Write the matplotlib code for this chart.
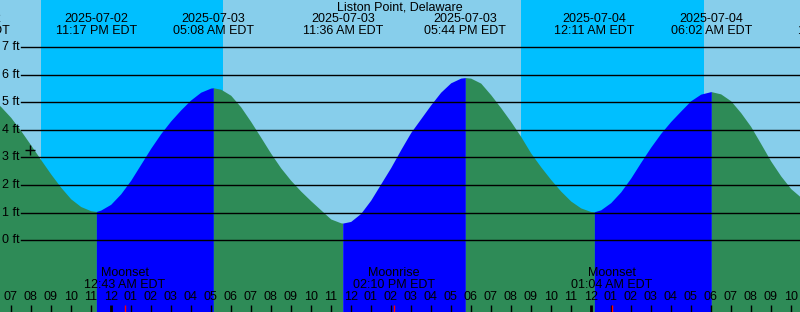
import numpy as np
import pandas as pd
import matplotlib
matplotlib.use('Agg')
import matplotlib.pyplot as plt
import matplotlib.dates as mdates
import matplotlib.transforms as mtransforms

plt.rcParams['font.family'] = ['Liberation Sans', 'DejaVu Sans']

station = 'Liston Point, Delaware'

# high / low tide predictions (ft)
hilo_times = ['2025-07-02 16:55', '2025-07-02 23:17', '2025-07-03 05:08', '2025-07-03 11:36',
              '2025-07-03 17:44', '2025-07-04 00:11', '2025-07-04 06:02', '2025-07-04 12:24']
hilo_heights = [5.50, 1.04, 5.52, 0.62, 5.89, 1.03, 5.38, 0.60]

# half-hourly tide heights (ft), starting 2025-07-02 18:00
tide_start = '2025-07-02 18:00'
tide_heights = [5.17, 4.84, 4.45, 3.97, 3.45, 2.92, 2.40, 1.92, 1.50, 1.22, 1.07, 1.09,
                1.30, 1.68, 2.17, 2.75, 3.33, 3.86, 4.32, 4.72, 5.08, 5.36, 5.51, 5.47,
                5.25, 4.83, 4.30, 3.73, 3.15, 2.62, 2.17, 1.78, 1.43, 1.10, 0.77, 0.63,
                0.68, 0.97, 1.45, 2.04, 2.63, 3.28, 3.90, 4.40, 4.90, 5.36, 5.70, 5.87,
                5.87, 5.69, 5.27, 4.80, 4.30, 3.76, 3.16, 2.66, 2.20, 1.78, 1.42, 1.17,
                1.04, 1.10, 1.36, 1.75, 2.25, 2.82, 3.37, 3.87, 4.30, 4.68, 5.05, 5.29,
                5.38, 5.30, 5.05, 4.62, 4.12, 3.50, 2.87, 2.33, 1.87, 1.56, 1.28]

# night (sunset -> sunrise)
sunsets = ['2025-07-02 20:31', '2025-07-03 20:30']
sunrises = ['2025-07-03 05:38', '2025-07-04 05:39']

moon_times = ['2025-07-03 00:43', '2025-07-03 14:10', '2025-07-04 01:04']
moon_events = ['Moonset', 'Moonrise', 'Moonset']

now_time = '2025-07-02 19:58'
now_height = 3.26

ft_levels = [0, 1, 2, 3, 4, 5, 6, 7]

x_start = '2025-07-02 18:27:54'
x_end = '2025-07-04 10:27:54'
y_min, y_max = -2.6, 8.7

day_color = '#87CEEB'
night_color = '#00BFFF'
fall_color = '#2E8B57'
rise_color = '#0000FF'


def dnum(t):
    return mdates.date2num(pd.to_datetime(t))


hl_t = pd.to_datetime(hilo_times)
hl_x = dnum(hilo_times)
td_t = pd.date_range(tide_start, periods=len(tide_heights), freq='30min')
td_x = dnum(td_t)

all_x = np.concatenate([hl_x, td_x])
all_h = np.concatenate([hilo_heights, tide_heights])
order = np.argsort(all_x)
all_x = all_x[order]
all_h = all_h[order]

fig = plt.figure(figsize=(8, 3.12), dpi=100)
fig.patch.set_facecolor(day_color)
ax = fig.add_axes([0, 0, 1, 1])
ax.axis('off')
ax.set_xlim(dnum(x_start), dnum(x_end))
ax.set_ylim(y_min, y_max)
trans = mtransforms.blended_transform_factory(ax.transData, ax.transAxes)
trans_y = mtransforms.blended_transform_factory(ax.transAxes, ax.transData)

for s, r in zip(sunsets, sunrises):
    ax.axvspan(dnum(s), dnum(r), color=night_color, lw=0, zorder=0)

# tide fill, green when falling, blue when rising
for i in range(len(hl_x) - 1):
    m = (all_x >= hl_x[i]) & (all_x <= hl_x[i + 1])
    c = rise_color if hilo_heights[i + 1] > hilo_heights[i] else fall_color
    ax.fill_between(all_x[m], all_h[m], y_min - 1, color=c, lw=0, zorder=1)

for lv in ft_levels:
    ax.axhline(lv, xmin=21 / 800, xmax=1, color='black', lw=1.0, zorder=2)
    ax.text(20 / 800, lv, f'{lv} ft', transform=trans_y, ha='right', va='center', fontsize=9, zorder=3)

ax.plot(dnum(now_time), now_height, marker='+', color='black', ms=7, mew=1.0, zorder=4)

ax.text(0.5, 1 - 7.5 / 312, station, transform=ax.transAxes, ha='center', va='center', fontsize=9)
for t, x in zip(hl_t, hl_x):
    ax.text(x, 1 - 19.5 / 312, t.strftime('%Y-%m-%d'), transform=trans, ha='center', va='center', fontsize=9)
    ax.text(x, 1 - 31.5 / 312, t.strftime('%I:%M %p EDT'), transform=trans, ha='center', va='center', fontsize=9)

# hour ticks along the bottom
hours = pd.date_range('2025-07-02 18:00', '2025-07-04 11:00', freq='h')
for h in hours:
    hx = dnum(h)
    ax.text(hx, 1 - 297 / 312, h.strftime('%I'), transform=trans, ha='center', va='center', fontsize=9)
    lw = 2.0 if h.hour == 0 else 1.0
    ax.vlines(hx, 0, 7 / 312, transform=trans, color='black', lw=lw, zorder=3)

for t, ev in zip(moon_times, moon_events):
    mt = pd.to_datetime(t)
    mx = dnum(t)
    ax.text(mx, 1 - 273.5 / 312, ev, transform=trans, ha='center', va='center', fontsize=9)
    ax.text(mx, 1 - 285.5 / 312, mt.strftime('%I:%M %p EDT'), transform=trans, ha='center', va='center', fontsize=9)
    ax.vlines(mx, 0, 7 / 312, transform=trans, color='red', lw=1.0, zorder=3)

fig.savefig('out.png', dpi=100, facecolor=fig.get_facecolor())
